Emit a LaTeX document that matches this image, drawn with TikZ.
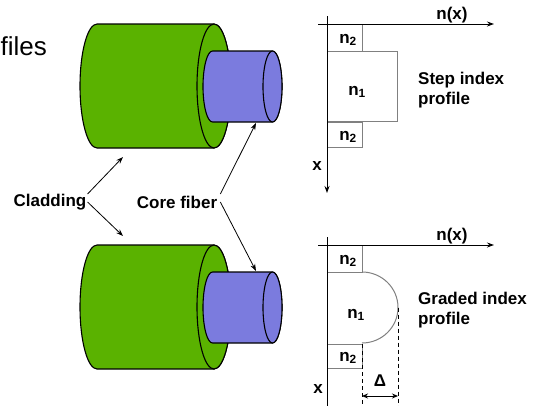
\documentclass[tikz,border=0pt]{standalone}
\usepackage{fontspec}
\setmainfont{Liberation Sans}
\usetikzlibrary{arrows.meta,calc}
\definecolor{cladgreen}{RGB}{90,178,0}
\definecolor{corepurple}{RGB}{123,123,222}
\definecolor{boxgray}{RGB}{128,128,128}
\begin{document}
\begin{tikzpicture}[x=1pt,y=-1pt,
  lbl/.style={font=\fontsize{17}{20.5}\selectfont\bfseries, inner sep=0pt},
  idx/.style={font=\fontsize{17}{19}\selectfont\bfseries, inner sep=0pt},
  outl/.style={draw=black, line width=1.1pt, line join=round},
  conn/.style={draw=black, line width=0.8pt, -{Stealth[length=7pt,width=5pt]}},
  axis/.style={draw=black, line width=0.9pt},
  axarrow/.style={axis, -{Stealth[length=7pt,width=5pt]}},
  pbox/.style={draw=boxgray, line width=1pt},
  dashln/.style={draw=black, line width=1pt, dash pattern=on 4pt off 3pt},
]
\useasboundingbox (0,0) rectangle (533,405);

% title fragment
\node[font=\fontsize{26}{30}\selectfont, anchor=base east, inner sep=0pt] (ttl) at (47,55) {files};

% two fibers
\foreach \dy in {0,221}{
\begin{scope}[shift={(0,\dy)}]
  \path[outl, fill=cladgreen] (97,24) -- (214,24)
     arc[start angle=-90,end angle=90,x radius=17,y radius=62]
     -- (97,148)
     arc[start angle=90,end angle=270,x radius=17,y radius=62] -- cycle;
  \path[outl, fill=cladgreen] (214,86) ellipse[x radius=17,y radius=62];
  \path[outl, fill=corepurple] (212.5,51) -- (272.5,51)
     arc[start angle=-90,end angle=90,x radius=9.5,y radius=35.5]
     -- (212.5,122)
     arc[start angle=90,end angle=270,x radius=9.5,y radius=35.5] -- cycle;
  \path[outl, fill=corepurple] (272.5,86.5) ellipse[x radius=9.5,y radius=35.5];
\end{scope}
}

% labels and connectors
\node[lbl] (clad) at (50,202) {Cladding};
\node[lbl] (core) at (177,202) {Core fiber};
\coordinate (cladtipA) at (123,157);
\coordinate (cladtipB) at (123,236);
\coordinate (coretipA) at (256,123);
\coordinate (coretipB) at (256,271);
\draw[conn] ($(clad.east)+(1,-8)$) -- (cladtipA);
\draw[conn] ($(clad.east)+(1,0)$) -- (cladtipB);
\draw[conn] ($(core.east)+(3,-8)$) -- (coretipA);
\draw[conn] ($(core.east)+(3,0)$) -- (coretipB);

% step index profile
\draw[pbox] (327,24) rectangle (362,51);
\draw[pbox] (327,51.5) rectangle (397,121);
\draw[pbox] (327,122.5) rectangle (362,147);
\coordinate (hA0) at (318,24);
\coordinate (hA1) at (494,24);
\coordinate (vA0) at (327,16);
\coordinate (vA1) at (327,193);
\draw[axarrow] (hA0) -- (hA1);
\draw[axarrow] (vA0) -- (vA1);
\node[lbl] (nxA) at (452,15) {n(x)};
\node[lbl] (xA) at (317,166) {x};
\node[idx] (n2a) at (348,40) {n\textsubscript{2}};
\node[idx] (n1a) at (357,92) {n\textsubscript{1}};
\node[idx] (n2b) at (348,137) {n\textsubscript{2}};
\node[lbl, align=left, anchor=west] (stepL) at (418,90) {Step index\\profile};

% graded index profile
\draw[pbox] (327,245) rectangle (362,272);
\draw[pbox] (362,272) arc[start angle=-90,end angle=90,x radius=36,y radius=35.5];
\draw[pbox] (327,344) rectangle (362,368);
\coordinate (hB0) at (318,245);
\coordinate (hB1) at (494,245);
\coordinate (vB0) at (327,237);
\coordinate (vB1) at (327,406);
\draw[axarrow] (hB0) -- (hB1);
\draw[axis] (vB0) -- (vB1);
\node[lbl] (nxB) at (452,236) {n(x)};
\node[lbl] (xB) at (318,389) {x};
\node[idx] (n2c) at (348,261) {n\textsubscript{2}};
\node[idx] (n1b) at (356,315) {n\textsubscript{1}};
\node[idx] (n2d) at (348,358) {n\textsubscript{2}};
\node[lbl, align=left, anchor=west] (gradL) at (418,310) {Graded index\\profile};

\coordinate (dA0) at (362,344);
\coordinate (dA1) at (362,406);
\coordinate (dB0) at (398,307.5);
\coordinate (dB1) at (398,406);
\draw[dashln] (dA0) -- (dA1);
\draw[dashln] (dB0) -- (dB1);
\coordinate (wA) at (362,396);
\coordinate (wB) at (398,396);
\draw[axis, {Stealth[length=6pt,width=5pt]}-{Stealth[length=6pt,width=5pt]}] (wA) -- (wB);
\node[lbl] (delta) at (380,381) {Δ};
\end{tikzpicture}
\end{document}
